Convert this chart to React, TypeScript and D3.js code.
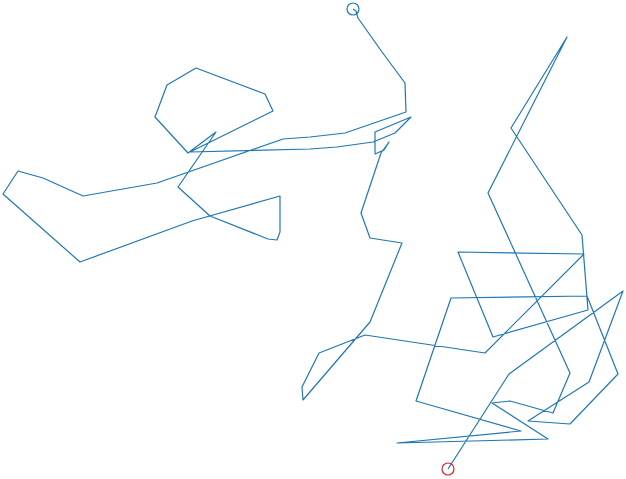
import React, { useEffect, useRef } from "react";
import * as d3 from "d3";

// random walk, step by step (x, y in walk units)
const walkX = [
  13.5, 19.6, 31.0, 27.6, 21.5, 25.7, 30.5, 27.4, 13.8, 10.3, 20.8, 8.4, 23.5, 17.9, 19.7, 24.0, 25.7, 17.5, 25.4,
  19.8, 26.9, 27.5, 18.0, 14.5, 27.1, 17.2, 5.2, 0.6, -1.1, -1.0, 5.7, 8.9, 5.7, 4.8, 6.8, 7.6, 7.1, 6.2, 6.2, 9.8,
  8.2, 6.0, 2.4, -0.3, -12.3, -4.0, -4.8, -11.7, -14.6, -15.8, -12.5, -9.7, -13.5, -10.3, -4.5, -3.6, -3.3, -3.3,
  -12.1, -23.3, -31.0, -29.5, -27.0, -23.0, -15.6, -3.0, -0.3, 3.2, 9.3, 9.2, 6.9, 4.5, 4.3, 4.0,
];
const walkY = [
  -22.9, -13.4, -5.1, -14.2, -18.1, -18.4, -13.4, -5.6, -5.8, -16.1, -19.1, -20.3, -19.9, -16.3, -16.1, -17.3,
  -13.3, 4.7, 20.3, 11.2, 0.5, -7.0, -9.7, -1.2, -1.4, -11.3, -9.5, -11.3, -14.7, -16.0, -8.2, -0.3, 0.2, 2.7, 8.7,
  9.8, 9.0, 8.6, 10.8, 12.3, 10.7, 9.8, 9.3, 9.1, 8.8, 12.9, 14.6, 17.2, 15.5, 12.3, 8.7, 10.8, 5.3, 2.4, 0.1, 0.0,
  0.8, 4.4, 1.9, -2.2, 4.6, 6.9, 6.2, 4.4, 5.7, 10.1, 10.3, 10.7, 12.8, 15.7, 18.8, 22.2, 22.9, 23.1,
];

export default function App() {
  const ref = useRef<SVGSVGElement>(null);

  useEffect(() => {
    const width = 626;
    const height = 479;
    const pts = walkX.map((x, i) => ({ x, y: walkY[i] }));

    const svg = d3.select(ref.current);
    svg.selectAll("*").remove();

    const x = d3
      .scaleLinear()
      .domain(d3.extent(walkX) as [number, number])
      .range([3, 623]);
    const y = d3
      .scaleLinear()
      .domain(d3.extent(walkY) as [number, number])
      .range([469, 9]);

    const line = d3
      .line<{ x: number; y: number }>()
      .x((d) => x(d.x))
      .y((d) => y(d.y));

    svg
      .append("path")
      .datum(pts)
      .attr("fill", "none")
      .attr("stroke", "#1f77b4")
      .attr("stroke-width", 1.2)
      .attr("stroke-linejoin", "round")
      .attr("d", line);

    // start and end markers
    const first = pts[0];
    const last = pts[pts.length - 1];
    svg
      .append("circle")
      .attr("cx", x(first.x))
      .attr("cy", y(first.y))
      .attr("r", 6)
      .attr("fill", "none")
      .attr("stroke", "#d62728")
      .attr("stroke-width", 1.2);
    svg
      .append("circle")
      .attr("cx", x(last.x))
      .attr("cy", y(last.y))
      .attr("r", 6)
      .attr("fill", "none")
      .attr("stroke", "#1f77b4")
      .attr("stroke-width", 1.2);

    svg.attr("width", width).attr("height", height);
  }, []);

  return (
    <svg
      ref={ref}
      width={626}
      height={479}
      style={{ position: "absolute", left: 0, top: 0, background: "#fff" }}
    />
  );
}
